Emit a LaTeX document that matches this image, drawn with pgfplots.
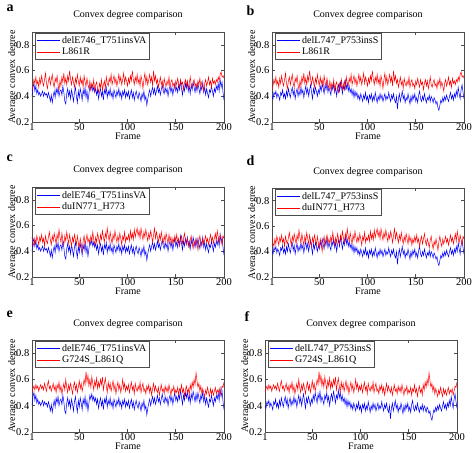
\documentclass[border=0pt]{standalone}
\usepackage{fontspec}
\setmainfont{Liberation Serif}
\usepackage{pgfplots}
\usepackage{pgfplotstable}
\pgfplotsset{compat=1.18}

% delE746_T751insVA
\pgfplotstableread[row sep=crcr]{y\\
0.40\\0.47\\0.50\\0.44\\0.48\\0.42\\0.45\\0.41\\0.43\\0.40\\
0.42\\0.44\\0.40\\0.43\\0.41\\0.42\\0.39\\0.43\\0.40\\0.36\\
0.41\\0.35\\0.40\\0.44\\0.39\\0.46\\0.42\\0.47\\0.40\\0.44\\
0.45\\0.41\\0.48\\0.43\\0.36\\0.34\\0.42\\0.46\\0.40\\0.44\\
0.38\\0.45\\0.41\\0.36\\0.43\\0.47\\0.40\\0.35\\0.44\\0.39\\
0.46\\0.42\\0.37\\0.45\\0.41\\0.47\\0.39\\0.44\\0.36\\0.42\\
0.48\\0.45\\0.49\\0.44\\0.47\\0.43\\0.46\\0.41\\0.45\\0.38\\
0.43\\0.46\\0.40\\0.44\\0.37\\0.45\\0.42\\0.47\\0.39\\0.44\\
0.41\\0.46\\0.40\\0.43\\0.38\\0.45\\0.42\\0.39\\0.44\\0.41\\
0.46\\0.40\\0.43\\0.38\\0.44\\0.41\\0.45\\0.39\\0.43\\0.40\\
0.44\\0.38\\0.42\\0.45\\0.39\\0.43\\0.37\\0.41\\0.44\\0.40\\
0.38\\0.43\\0.40\\0.36\\0.42\\0.39\\0.44\\0.37\\0.40\\0.33\\
0.38\\0.42\\0.45\\0.40\\0.44\\0.47\\0.42\\0.46\\0.41\\0.44\\
0.48\\0.43\\0.46\\0.41\\0.45\\0.49\\0.44\\0.42\\0.47\\0.43\\
0.46\\0.40\\0.45\\0.48\\0.43\\0.47\\0.41\\0.46\\0.50\\0.44\\
0.47\\0.43\\0.49\\0.45\\0.52\\0.46\\0.41\\0.48\\0.44\\0.50\\
0.46\\0.51\\0.44\\0.48\\0.42\\0.49\\0.45\\0.51\\0.47\\0.43\\
0.49\\0.44\\0.50\\0.46\\0.42\\0.48\\0.45\\0.51\\0.43\\0.47\\
0.41\\0.46\\0.42\\0.39\\0.45\\0.43\\0.48\\0.44\\0.40\\0.46\\
0.43\\0.48\\0.45\\0.50\\0.44\\0.53\\0.47\\0.51\\0.43\\0.37\\}\tA

% delL747_P753insS
\pgfplotstableread[row sep=crcr]{y\\
0.40\\0.38\\0.43\\0.41\\0.44\\0.39\\0.42\\0.40\\0.37\\0.43\\
0.41\\0.45\\0.39\\0.42\\0.38\\0.44\\0.40\\0.46\\0.42\\0.39\\
0.44\\0.47\\0.41\\0.45\\0.38\\0.43\\0.46\\0.40\\0.44\\0.41\\
0.47\\0.42\\0.45\\0.39\\0.44\\0.48\\0.42\\0.46\\0.40\\0.45\\
0.49\\0.43\\0.38\\0.46\\0.42\\0.47\\0.44\\0.40\\0.45\\0.42\\
0.48\\0.44\\0.50\\0.46\\0.42\\0.49\\0.45\\0.51\\0.43\\0.47\\
0.44\\0.41\\0.48\\0.45\\0.50\\0.43\\0.47\\0.40\\0.46\\0.49\\
0.44\\0.51\\0.47\\0.42\\0.48\\0.45\\0.52\\0.46\\0.50\\0.44\\
0.48\\0.43\\0.46\\0.41\\0.45\\0.39\\0.44\\0.40\\0.43\\0.38\\
0.41\\0.37\\0.42\\0.39\\0.36\\0.41\\0.38\\0.43\\0.37\\0.40\\
0.35\\0.41\\0.38\\0.42\\0.36\\0.40\\0.37\\0.43\\0.39\\0.35\\
0.40\\0.37\\0.42\\0.38\\0.41\\0.36\\0.39\\0.42\\0.37\\0.40\\
0.38\\0.43\\0.39\\0.36\\0.41\\0.38\\0.42\\0.37\\0.35\\0.40\\
0.30\\0.38\\0.42\\0.36\\0.40\\0.44\\0.38\\0.41\\0.35\\0.39\\
0.37\\0.42\\0.38\\0.34\\0.40\\0.36\\0.41\\0.38\\0.42\\0.36\\
0.39\\0.35\\0.41\\0.44\\0.38\\0.36\\0.40\\0.37\\0.42\\0.38\\
0.35\\0.39\\0.37\\0.41\\0.36\\0.40\\0.38\\0.35\\0.39\\0.37\\
0.34\\0.36\\0.31\\0.29\\0.33\\0.37\\0.35\\0.39\\0.36\\0.40\\
0.37\\0.41\\0.38\\0.36\\0.40\\0.43\\0.38\\0.41\\0.37\\0.42\\
0.39\\0.44\\0.40\\0.47\\0.42\\0.38\\0.45\\0.49\\0.43\\0.38\\}\tB

% L861R
\pgfplotstableread[row sep=crcr]{y\\
0.45\\0.48\\0.53\\0.50\\0.55\\0.49\\0.52\\0.47\\0.54\\0.50\\
0.56\\0.51\\0.48\\0.53\\0.58\\0.50\\0.46\\0.52\\0.55\\0.49\\
0.53\\0.57\\0.50\\0.47\\0.54\\0.51\\0.56\\0.49\\0.45\\0.52\\
0.48\\0.55\\0.51\\0.58\\0.50\\0.54\\0.49\\0.56\\0.52\\0.60\\
0.53\\0.49\\0.55\\0.51\\0.47\\0.54\\0.50\\0.57\\0.52\\0.48\\
0.55\\0.50\\0.53\\0.47\\0.56\\0.51\\0.48\\0.54\\0.49\\0.46\\
0.52\\0.45\\0.50\\0.47\\0.53\\0.44\\0.49\\0.51\\0.46\\0.43\\
0.50\\0.47\\0.53\\0.45\\0.49\\0.52\\0.46\\0.55\\0.50\\0.48\\
0.54\\0.51\\0.57\\0.49\\0.53\\0.56\\0.50\\0.54\\0.48\\0.52\\
0.57\\0.51\\0.55\\0.49\\0.53\\0.58\\0.50\\0.55\\0.52\\0.48\\
0.54\\0.50\\0.56\\0.52\\0.60\\0.53\\0.49\\0.55\\0.51\\0.57\\
0.50\\0.54\\0.48\\0.56\\0.52\\0.46\\0.53\\0.58\\0.50\\0.55\\
0.49\\0.53\\0.57\\0.51\\0.55\\0.48\\0.60\\0.52\\0.56\\0.50\\
0.53\\0.47\\0.51\\0.55\\0.49\\0.52\\0.46\\0.54\\0.50\\0.48\\
0.52\\0.49\\0.55\\0.47\\0.51\\0.53\\0.48\\0.50\\0.46\\0.52\\
0.49\\0.54\\0.50\\0.47\\0.53\\0.49\\0.51\\0.45\\0.50\\0.53\\
0.48\\0.52\\0.46\\0.50\\0.55\\0.49\\0.47\\0.51\\0.53\\0.48\\
0.50\\0.46\\0.52\\0.49\\0.54\\0.47\\0.51\\0.48\\0.44\\0.50\\
0.53\\0.48\\0.51\\0.55\\0.49\\0.52\\0.47\\0.54\\0.50\\0.52\\
0.49\\0.53\\0.51\\0.55\\0.52\\0.57\\0.59\\0.55\\0.56\\0.54\\}\tC

% duIN771_H773
\pgfplotstableread[row sep=crcr]{y\\
0.51\\0.47\\0.44\\0.50\\0.46\\0.52\\0.49\\0.45\\0.51\\0.48\\
0.53\\0.47\\0.50\\0.44\\0.52\\0.48\\0.46\\0.51\\0.55\\0.49\\
0.45\\0.52\\0.48\\0.54\\0.50\\0.46\\0.53\\0.49\\0.57\\0.51\\
0.47\\0.54\\0.49\\0.45\\0.52\\0.48\\0.55\\0.50\\0.46\\0.53\\
0.48\\0.44\\0.51\\0.47\\0.53\\0.49\\0.45\\0.52\\0.47\\0.43\\
0.50\\0.46\\0.40\\0.48\\0.52\\0.45\\0.49\\0.53\\0.47\\0.50\\
0.46\\0.52\\0.48\\0.55\\0.49\\0.45\\0.51\\0.47\\0.54\\0.50\\
0.46\\0.53\\0.49\\0.56\\0.51\\0.47\\0.54\\0.50\\0.58\\0.52\\
0.48\\0.55\\0.50\\0.46\\0.53\\0.49\\0.56\\0.51\\0.47\\0.52\\
0.48\\0.54\\0.50\\0.45\\0.52\\0.49\\0.55\\0.47\\0.51\\0.49\\
0.53\\0.48\\0.56\\0.50\\0.54\\0.49\\0.57\\0.51\\0.55\\0.58\\
0.52\\0.56\\0.50\\0.58\\0.53\\0.49\\0.55\\0.51\\0.57\\0.52\\
0.48\\0.54\\0.50\\0.56\\0.52\\0.47\\0.53\\0.58\\0.50\\0.55\\
0.51\\0.47\\0.53\\0.49\\0.55\\0.50\\0.46\\0.52\\0.48\\0.54\\
0.50\\0.46\\0.53\\0.48\\0.51\\0.45\\0.50\\0.47\\0.52\\0.48\\
0.53\\0.47\\0.50\\0.44\\0.49\\0.52\\0.46\\0.50\\0.54\\0.48\\
0.45\\0.50\\0.47\\0.43\\0.49\\0.52\\0.46\\0.42\\0.48\\0.45\\
0.50\\0.46\\0.41\\0.48\\0.52\\0.47\\0.44\\0.50\\0.46\\0.49\\
0.52\\0.47\\0.50\\0.45\\0.49\\0.53\\0.48\\0.51\\0.46\\0.50\\
0.54\\0.48\\0.56\\0.51\\0.47\\0.53\\0.49\\0.45\\0.52\\0.50\\}\tD

% G724S_L861Q
\pgfplotstableread[row sep=crcr]{y\\
0.50\\0.53\\0.55\\0.52\\0.56\\0.53\\0.55\\0.51\\0.54\\0.56\\
0.53\\0.55\\0.52\\0.57\\0.54\\0.51\\0.56\\0.59\\0.53\\0.55\\
0.51\\0.54\\0.57\\0.52\\0.55\\0.50\\0.56\\0.53\\0.58\\0.51\\
0.55\\0.49\\0.53\\0.57\\0.52\\0.60\\0.54\\0.50\\0.56\\0.52\\
0.57\\0.53\\0.49\\0.55\\0.58\\0.52\\0.56\\0.50\\0.54\\0.59\\
0.53\\0.57\\0.51\\0.55\\0.60\\0.56\\0.66\\0.58\\0.63\\0.55\\
0.60\\0.54\\0.62\\0.57\\0.52\\0.59\\0.55\\0.61\\0.53\\0.58\\
0.54\\0.60\\0.56\\0.62\\0.52\\0.57\\0.61\\0.55\\0.50\\0.58\\
0.53\\0.57\\0.51\\0.55\\0.59\\0.52\\0.56\\0.49\\0.54\\0.58\\
0.52\\0.56\\0.50\\0.54\\0.60\\0.53\\0.57\\0.51\\0.55\\0.52\\
0.56\\0.50\\0.54\\0.58\\0.52\\0.55\\0.49\\0.57\\0.53\\0.51\\
0.55\\0.52\\0.58\\0.50\\0.54\\0.57\\0.51\\0.53\\0.49\\0.55\\
0.52\\0.56\\0.50\\0.54\\0.48\\0.53\\0.57\\0.51\\0.55\\0.52\\
0.50\\0.54\\0.48\\0.52\\0.56\\0.51\\0.53\\0.49\\0.55\\0.51\\
0.54\\0.50\\0.56\\0.52\\0.48\\0.53\\0.51\\0.55\\0.49\\0.52\\
0.50\\0.54\\0.48\\0.53\\0.51\\0.56\\0.50\\0.53\\0.47\\0.52\\
0.55\\0.50\\0.53\\0.48\\0.56\\0.52\\0.58\\0.54\\0.60\\0.56\\
0.65\\0.59\\0.54\\0.57\\0.51\\0.55\\0.49\\0.53\\0.50\\0.47\\
0.52\\0.49\\0.54\\0.50\\0.47\\0.53\\0.49\\0.52\\0.48\\0.51\\
0.54\\0.49\\0.52\\0.50\\0.53\\0.48\\0.51\\0.55\\0.54\\0.58\\}\tE

\pgfplotsset{
  panel/.style={
    scale only axis, width=192pt,
    xmin=1, xmax=200, ymin=0.2, ymax=0.9,
    xtick={1,50,100,150,200}, ytick={0.2,0.4,0.6,0.8},
    tick align=inside, major tick length=3pt, tick pos=both,
    /pgf/number format/assume math mode=true,
    ticklabel style={font=\fontsize{10.5}{12}\selectfont},
    xticklabel style={inner sep=1pt},
    yticklabel style={inner sep=2.5pt},
    axis line style={black!70, line width=0.8pt},
    tick style={black!70, line width=0.6pt},
    title={Convex degree comparison},
    title style={at={(axis description cs:0.5,1)}, anchor=base, yshift=8pt},
    xlabel={Frame},
    xlabel style={at={(axis description cs:0.5,0)}, anchor=base, yshift=-18pt, inner sep=0pt},
    ylabel={Average convex degree},
    ylabel style={at={(axis description cs:-0.0885,0.5)}, anchor=base, inner sep=0pt},
    legend style={at={(axis description cs:0,1)}, anchor=north west,
      xshift=3pt, yshift=-1pt, draw=black!70, line width=0.8pt, fill=white,
      inner sep=1pt, row sep=-1pt, font=\normalsize},
    legend cell align=left,
    legend image code/.code={\draw[#1, line width=0.8pt] (0pt,0pt) -- (23pt,0pt);},
  },
}

\begin{document}
\begin{tikzpicture}
\path[use as bounding box] (0pt,0pt) rectangle (472pt,453pt);
\tikzset{lett/.style={anchor=base west, font=\fontsize{14}{14}\selectfont\bfseries}}
\node[lett] at (3pt,441pt) {a};
\node[lett] at (243pt,437pt) {b};
\node[lett] at (3pt,291pt) {c};
\node[lett] at (243pt,287pt) {d};
\node[lett] at (3pt,135pt) {e};
\node[lett] at (241pt,131pt) {f};

\begin{axis}[panel, height=90pt, at={(32pt,331pt)}, anchor=south west]
\addplot[draw=blue, line width=0.5pt] table[x expr=\coordindex+1, y=y]{\tA};
\addplot[draw=red, line width=0.5pt] table[x expr=\coordindex+1, y=y]{\tC};
\legend{delE746\_T751insVA, L861R}
\end{axis}

\begin{axis}[panel, height=90pt, at={(272pt,331pt)}, anchor=south west]
\addplot[draw=blue, line width=0.5pt] table[x expr=\coordindex+1, y=y]{\tB};
\addplot[draw=red, line width=0.5pt] table[x expr=\coordindex+1, y=y]{\tC};
\legend{delL747\_P753insS, L861R}
\end{axis}

\begin{axis}[panel, height=90pt, at={(32pt,176pt)}, anchor=south west]
\addplot[draw=blue, line width=0.5pt] table[x expr=\coordindex+1, y=y]{\tA};
\addplot[draw=red, line width=0.5pt] table[x expr=\coordindex+1, y=y]{\tD};
\legend{delE746\_T751insVA, duIN771\_H773}
\end{axis}

\begin{axis}[panel, height=89pt, at={(272pt,176pt)}, anchor=south west]
\addplot[draw=blue, line width=0.5pt] table[x expr=\coordindex+1, y=y]{\tB};
\addplot[draw=red, line width=0.5pt] table[x expr=\coordindex+1, y=y]{\tD};
\legend{delL747\_P753insS, duIN771\_H773}
\end{axis}

\begin{axis}[panel, height=92pt, at={(32pt,21pt)}, anchor=south west]
\addplot[draw=blue, line width=0.5pt] table[x expr=\coordindex+1, y=y]{\tA};
\addplot[draw=red, line width=0.5pt] table[x expr=\coordindex+1, y=y]{\tE};
\legend{delE746\_T751insVA, G724S\_L861Q}
\end{axis}

\begin{axis}[panel, height=92pt, at={(265pt,21pt)}, anchor=south west]
\addplot[draw=blue, line width=0.5pt] table[x expr=\coordindex+1, y=y]{\tB};
\addplot[draw=red, line width=0.5pt] table[x expr=\coordindex+1, y=y]{\tE};
\legend{delL747\_P753insS, G724S\_L861Q}
\end{axis}
\end{tikzpicture}
\end{document}
